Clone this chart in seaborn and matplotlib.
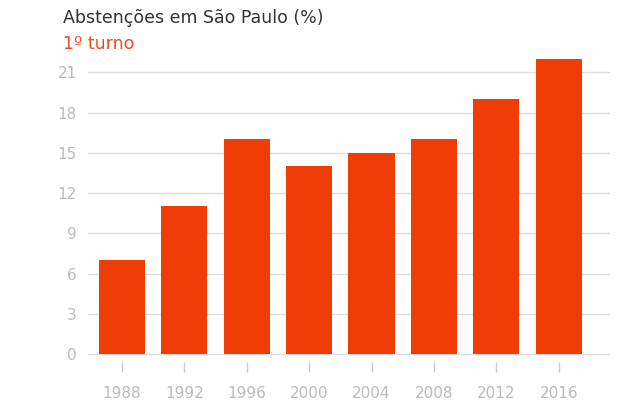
import matplotlib
matplotlib.use("Agg")
import matplotlib.pyplot as plt
import seaborn as sns
import pandas as pd

anos = ["1988", "1992", "1996", "2000", "2004", "2008", "2012", "2016"]
abstencao = [7, 11, 16, 14, 15, 16, 19, 22]
yticks = [0, 3, 6, 9, 12, 15, 18, 21]

df = pd.DataFrame({"ano": anos, "abstencao": abstencao})

sns.set_style("white")
plt.rcParams["font.family"] = ["DejaVu Sans"]

fig = plt.figure(figsize=(6.4, 4), dpi=100)
ax = fig.add_axes([0.1375, 0.095, 0.8155, 0.7575])

sns.barplot(data=df, x="ano", y="abstencao", color="#f03c05", saturation=1,
            width=0.74, linewidth=0, ax=ax, zorder=3)

ax.set_ylim(-0.6, 22)
ax.set_xlim(-0.545, 7.82)
ax.set_yticks(yticks)
for y in yticks:
    ax.axhline(y, color="#dddddd", lw=1, zorder=1)
ax.set_xlabel("")
ax.set_ylabel("")
sns.despine(ax=ax, left=True, bottom=True)
ax.tick_params(axis="y", length=0, pad=8, labelsize=11, labelcolor="#bbbbbb")
ax.tick_params(axis="x", length=7, width=1, color="#cccccc", pad=10,
               labelsize=11, labelcolor="#bbbbbb", bottom=True)

fig.text(0.098, 0.955, "Abstenções em São Paulo (%)", fontsize=12.5,
         color="#333333", va="center", ha="left")
fig.text(0.098, 0.89, "1º turno", fontsize=12.5, color="#f04b1e",
         va="center", ha="left")

fig.savefig("out.png", dpi=100)
